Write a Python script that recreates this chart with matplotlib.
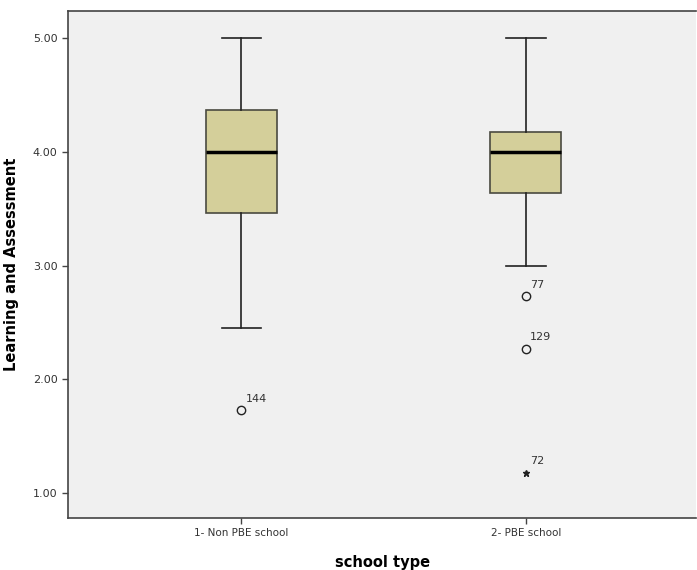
import matplotlib.pyplot as plt

# box plot summary
groups = ['1- Non PBE school', '2- PBE school']
medians = [4.00, 4.00]
q1s = [3.46, 3.64]
q3s = [4.37, 4.18]
whis_lo = [2.45, 3.00]
whis_hi = [5.00, 5.00]

# outliers (o) and extremes (*) with case numbers
out_group = [1, 2, 2]
out_vals = [1.73, 2.73, 2.27]
out_ids = ['144', '77', '129']
ext_group = [2]
ext_vals = [1.18]
ext_ids = ['72']

yticks = [1.0, 2.0, 3.0, 4.0, 5.0]

fig = plt.figure(figsize=(6.97, 5.70), dpi=100)
ax = fig.add_axes([0.0976, 0.0912, 0.9014, 0.8895])
ax.set_facecolor('#f0f0f0')

stats = []
for i in range(len(groups)):
    stats.append({'med': medians[i], 'q1': q1s[i], 'q3': q3s[i],
                  'whislo': whis_lo[i], 'whishi': whis_hi[i], 'fliers': []})

pos = list(range(1, len(groups) + 1))
ax.bxp(stats, positions=pos, widths=0.25, patch_artist=True, showfliers=False,
       boxprops=dict(facecolor='#d4cf9a', edgecolor='#4a4a40', linewidth=1.2),
       medianprops=dict(color='black', linewidth=2.5),
       whiskerprops=dict(color='#222222', linewidth=1.2),
       capprops=dict(color='#222222', linewidth=1.2),
       capwidths=0.14)

ax.plot(out_group, out_vals, 'o', markerfacecolor='none', markeredgecolor='#222222',
        markersize=6, markeredgewidth=1.0)
ax.plot(ext_group, ext_vals, '*', color='#222222', markersize=5)
for g, v, t in zip(out_group + ext_group, out_vals + ext_vals, out_ids + ext_ids):
    ax.annotate(t, (g, v), xytext=(3, 6), textcoords='offset points',
                fontsize=8, color='#333333')

ax.set_xlim(0.39, 2.6)
ax.set_ylim(0.78, 5.24)
ax.set_xticks(pos)
ax.set_xticklabels(groups, fontsize=7.5, color='#333333')
ax.set_yticks(yticks)
ax.set_yticklabels(['%.2f' % t for t in yticks], fontsize=8, color='#333333')
ax.tick_params(axis='both', direction='out', length=4, width=1, color='#444444')

for s in ['left', 'bottom', 'top']:
    ax.spines[s].set_color('#444444')
    ax.spines[s].set_linewidth(1.2)
ax.spines['right'].set_visible(False)

ax.set_xlabel('school type', fontsize=10.5, fontweight='bold', labelpad=12)
ax.set_ylabel('Learning and Assessment', fontsize=10.5, fontweight='bold', labelpad=10)

fig.savefig('out.png', dpi=100)
